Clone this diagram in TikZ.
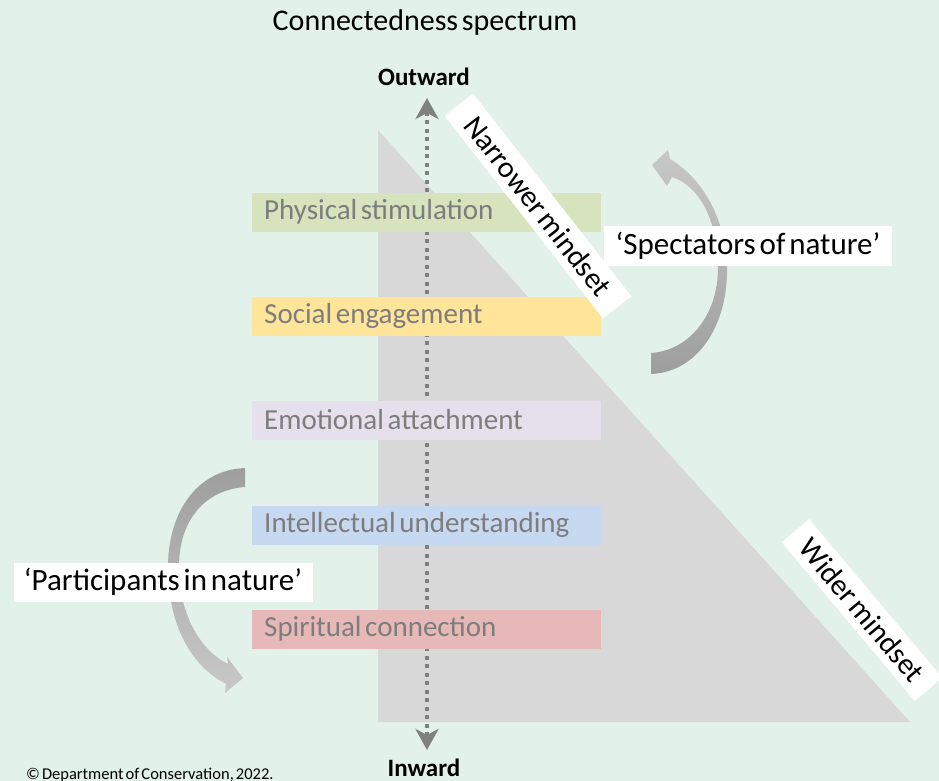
\documentclass[tikz,border=0pt]{standalone}
\usepackage{fontspec}
\setmainfont{Carlito}[WordSpace=0.55]
\usepackage{tikz}
\usetikzlibrary{arrows.meta,positioning,calc}

\definecolor{bgmint}{RGB}{226,242,234}
\definecolor{trigray}{RGB}{216,216,216}
\definecolor{axisgray}{RGB}{128,128,128}
\definecolor{stagetext}{RGB}{125,125,125}
\definecolor{arrowdark}{RGB}{158,158,158}
\definecolor{arrowlight}{RGB}{200,200,200}
\definecolor{physgreen}{RGB}{214,227,188}
\definecolor{socyellow}{RGB}{255,229,153}
\definecolor{emolilac}{RGB}{229,224,236}
\definecolor{intblue}{RGB}{198,217,241}
\definecolor{spirpink}{RGB}{230,185,184}

\begin{document}
\begin{tikzpicture}[x=1pt,y=-1pt,
  stage/.style={anchor=west,minimum width=349pt,minimum height=39pt,inner xsep=12pt,
    text width=325pt,align=left,text=stagetext,font=\fontsize{29}{31}\selectfont,
    execute at begin node={\spaceskip=0pt\xspaceskip=0pt}},
  rolebox/.style={fill=white,text=black,inner sep=0pt,font=\fontsize{31}{33}\selectfont},
  band/.style={fill=white,text=black,inner sep=0pt,minimum height=36pt,font=\fontsize{30}{32}\selectfont},
  axis/.style={axisgray,line width=3.5pt,dash pattern=on 4pt off 4.5pt,
    {Stealth[length=21pt,width=23pt,inset=6pt]}-{Stealth[length=21pt,width=23pt,inset=6pt]}},
  pole/.style={font=\bfseries\fontsize{25}{27}\selectfont}]
  \useasboundingbox (0,0) rectangle (939,781);
  \fill[bgmint] (0,0) rectangle (939,781); % 背景
  \fill[trigray] (378,130) -- (378,722) -- (910,722) -- cycle; % 三角形

  \node[anchor=base,font=\fontsize{30}{32}\selectfont] (title) at (425,31) {Connectedness spectrum};
  \node[pole] (outward) at (424,77) {Outward};
  \node[pole] (inward) at (424,768) {Inward};

  \coordinate (outtip) at (427,98); % 上向きの矢印の先
  \coordinate (intip) at (427,750); % 下向きの矢印の先
  \draw[axis] (intip) -- (outtip); % 点線の軸

  \node[stage,fill=physgreen] (physical) at (252,212) {Physical stimulation};
  \node[stage,fill=socyellow] (social) at (252,316) {Social engagement};
  \node[stage,fill=emolilac] (emotional) at (252,420) {Emotional attachment};
  \node[stage,fill=intblue] (intellectual) at (252,525) {Intellectual understanding};
  \node[stage,fill=spirpink] (spiritual) at (252,629) {Spiritual connection};

  % 右側の曲がった矢印
  \shade[top color=arrowlight,bottom color=arrowdark]
    (651,374) .. controls (700,372) and (728,322) .. (727,268)
    .. controls (726,222) and (705,180) .. (670,159)
    -- (668,150) -- (652,165) -- (667,186) -- (672,177)
    .. controls (700,186) and (718,222) .. (718,268)
    .. controls (718,312) and (692,350) .. (651,353) -- cycle;
  % 左側の曲がった矢印
  \shade[top color=arrowdark,bottom color=arrowlight]
    (245,468) .. controls (195,470) and (167,515) .. (168,570)
    .. controls (169,625) and (190,665) .. (226,684)
    -- (225,693) -- (243,678) -- (227,657) -- (228,664)
    .. controls (200,650) and (180,615) .. (179,570)
    .. controls (178,520) and (205,490) .. (245,487) -- cycle;

  \node[rolebox,minimum width=288pt,minimum height=40pt] (spectators) at (748,246) {‘Spectators of nature’};
  \node[rolebox,minimum width=299pt,minimum height=39pt] (participants) at (163,582) {‘Participants in nature’};

  \node[band,rotate=-52,minimum width=257pt] (narrower) at (538,206) {Narrower mindset};
  \node[band,rotate=-50,minimum width=207pt] (wider) at (862,610) {Wider mindset};

  \node[anchor=base west,inner sep=0pt,font=\fontsize{16.5}{18}\selectfont] (credit) at (26,779) {© Department of Conservation, 2022.};
\end{tikzpicture}
\end{document}
